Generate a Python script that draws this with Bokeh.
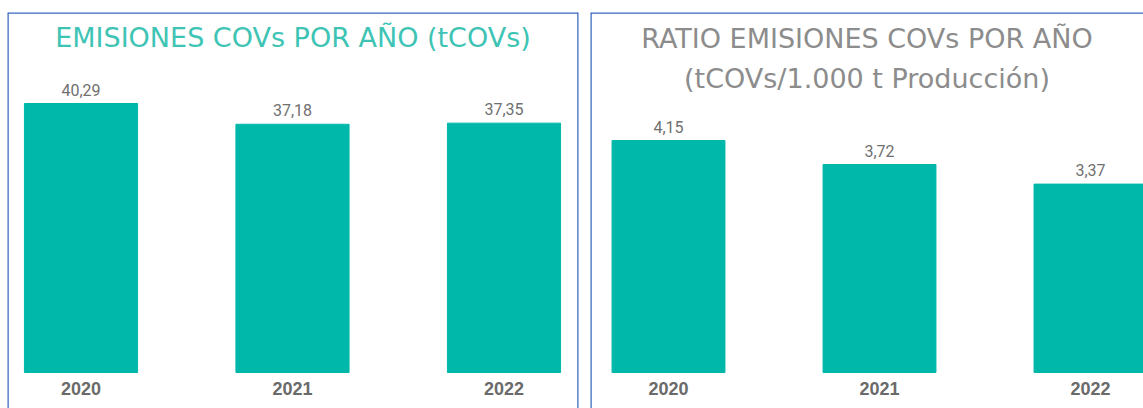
from bokeh.plotting import figure
from bokeh.layouts import row
from bokeh.models import ColumnDataSource, Range1d, Span, Label
from bokeh.core.properties import value
from bokeh.embed import file_html
from bokeh.resources import INLINE

# ---- data ----
years = ["2020", "2021", "2022"]
emisiones = [40.29, 37.18, 37.35]
emisiones_labels = ["40,29", "37,18", "37,35"]
ratio = [4.15, 3.72, 3.37]
ratio_labels = ["4,15", "3,72", "3,37"]
title_left = ["EMISIONES COVs POR AÑO (tCOVs)"]
title_right = ["RATIO EMISIONES COVs POR AÑO", "(tCOVs/1.000 t Producción)"]

BAR = "#00b8aa"
BORDER = "#3a68c0"
LABEL = "#707070"
YEAR = "#6a6a6a"
TITLE_FONT = "DejaVu Sans"

H = 408          # canvas height
TOP = 12         # frame top (page px)
BASE = 372       # bar baseline (page px)


def panel(vals, labels, titles, title_color, width, mleft, mright,
          x0, x1, ppu, title_ys, right_border=True):
    xs = list(range(len(years)))
    src = ColumnDataSource(dict(x=xs, top=vals, lab=labels, yr=years,
                                zero=[0] * len(xs)))
    y0 = -(H - BASE) / ppu
    y1 = (BASE - TOP) / ppu
    p = figure(width=width, height=H, output_backend="svg",
               toolbar_location=None, x_range=Range1d(x0, x1),
               y_range=Range1d(y0, y1), min_border_left=mleft,
               min_border_right=mright, min_border_top=TOP,
               min_border_bottom=0)
    p.axis.visible = False
    p.grid.visible = False
    p.outline_line_color = None
    p.background_fill_color = "white"
    p.border_fill_color = "white"
    p.vbar(x="x", top="top", width=0.535, bottom=0, source=src,
           fill_color=BAR, line_color=BAR)
    p.text(x="x", y="top", text="lab", source=src, text_align="center",
           text_baseline="bottom", y_offset=-8, text_color=LABEL,
           text_font=value("Roboto"), text_font_size="16px")
    p.text(x="x", y="zero", text="yr", source=src, text_align="center",
           text_baseline="middle", y_offset=16, text_color=YEAR,
           text_font=value("Liberation Sans"), text_font_style="bold",
           text_font_size="18px")
    xm = (x0 + x1) / 2
    for t, ty in zip(titles, title_ys):
        p.add_layout(Label(x=xm, y=(BASE - ty) / ppu, text=t,
                           text_align="center", text_baseline="middle",
                           text_color=title_color, text_font=TITLE_FONT,
                           text_font_size="27px"))
    p.add_layout(Span(location=x0, dimension="height", line_color=BORDER,
                      line_width=2.5))
    if right_border:
        p.add_layout(Span(location=x1, dimension="height", line_color=BORDER,
                          line_width=2.5))
    p.add_layout(Span(location=y1, dimension="width", line_color=BORDER,
                      line_width=2.5))
    return p


# left panel: frame 7..578, bar centres 80.5/291.5/503.5 (211.5 px per slot)
p1 = panel(emisiones, emisiones_labels, title_left, "#3ec4b4", 580, 7, 2,
           -(80.5 - 7) / 211.5, 2 + (578 - 503.5) / 211.5,
           269 / 40.29, [37])
# right panel: frame 590..1143, bar centres 668/879/1090 (211 px per slot)
p2 = panel(ratio, ratio_labels, title_right, "#8c8c8c", 563, 10, 0,
           -(668 - 590) / 211.0, 2 + (1143 - 1090) / 211.0,
           232 / 4.15, [38, 78], right_border=False)

layout = row(p1, p2, spacing=0)
open("out.html", "w").write(file_html(layout, INLINE))
